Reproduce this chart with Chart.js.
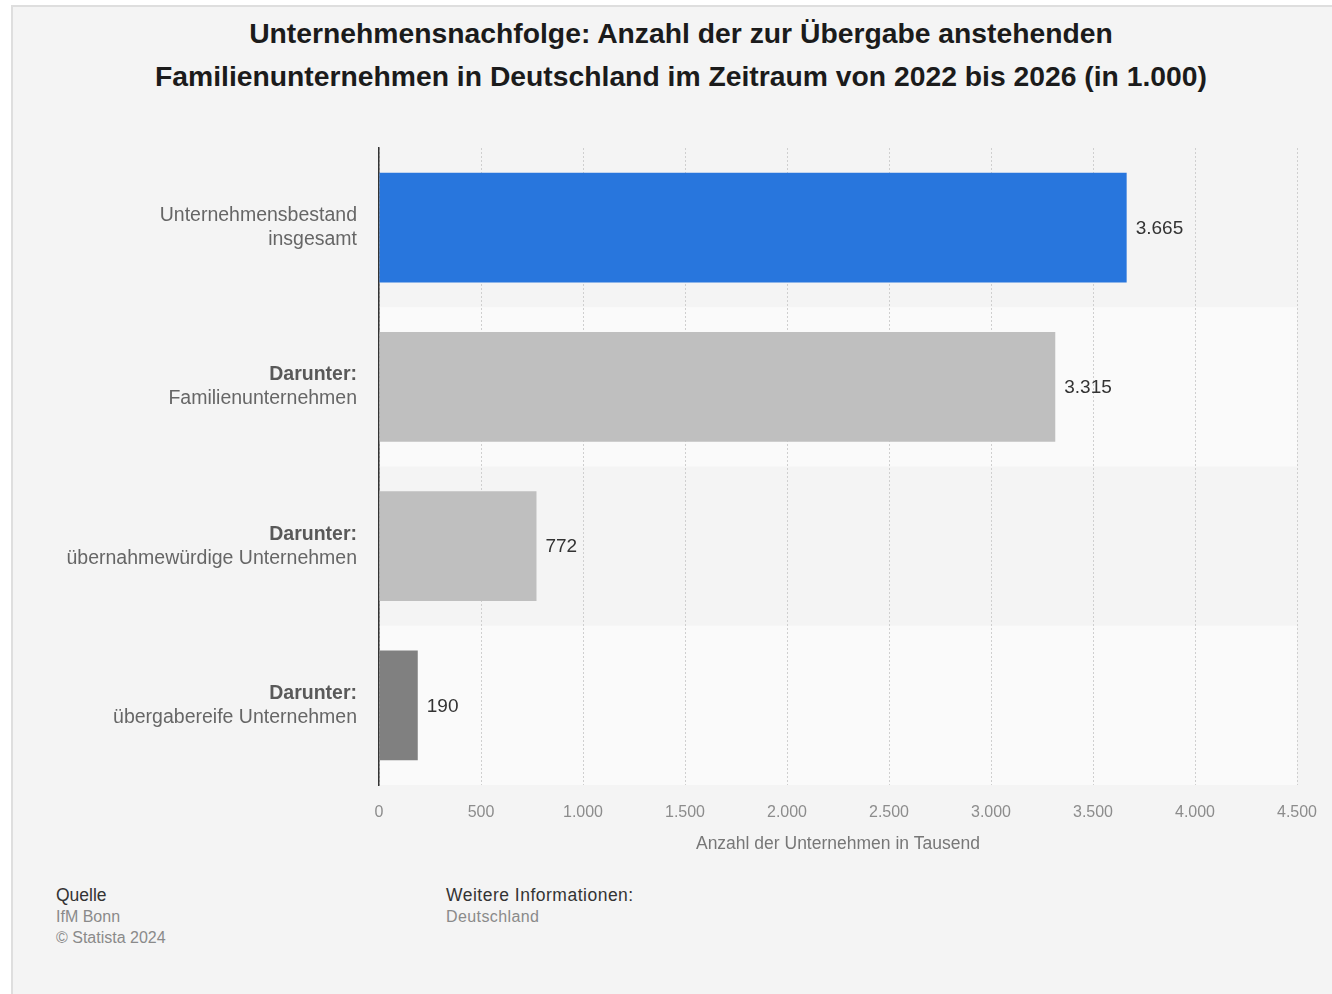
<!DOCTYPE html>
<html lang="de">
<head>
    <meta charset="UTF-8">
    <title>Unternehmensnachfolge</title>
    <script src="https://cdn.jsdelivr.net/npm/chart.js"></script>
    <style>
        body { margin: 0; background: #fff; font-family: "Liberation Sans", Arial, Helvetica, sans-serif; width: 1332px; height: 994px; overflow: hidden; position: relative; }
        #card { position: absolute; left: 11px; top: 5px; right: 0; bottom: 0; background: #f4f4f4; border-left: 2px solid #dedede; border-top: 2px solid #dedede; }
        h1 { position: absolute; left: 30px; width: 1302px; top: 12px; margin: 0; text-align: center; font-size: 28.3px; line-height: 43px; font-weight: bold; color: #1b1b1b; }
        #wrap { position: absolute; left: 0; top: 130px; width: 1332px; height: 740px; }
        .foot { position: absolute; top: 885px; font-size: 16px; line-height: 21px; color: #8a8a8a; }
        .foot b { font-weight: normal; color: #333; font-size: 17.5px; }
    </style>
</head>
<body>
    <div id="card"></div>
    <h1>Unternehmensnachfolge: Anzahl der zur Übergabe anstehenden<br>Familienunternehmen in Deutschland im Zeitraum von 2022 bis 2026 (in 1.000)</h1>
    <div id="wrap"><canvas id="chart"></canvas></div>
    <div class="foot" style="left:56px"><b>Quelle</b><br>IfM Bonn<br>© Statista 2024</div>
    <div class="foot" style="left:446px"><b style="letter-spacing:0.5px">Weitere Informationen:</b><br><span style="letter-spacing:0.4px">Deutschland</span></div>

    <script>
        // data
        const categories = ['Unternehmensbestand insgesamt', 'Darunter: Familienunternehmen', 'Darunter: übernahmewürdige Unternehmen', 'Darunter: übergabereife Unternehmen'];
        const labelTop = ['Unternehmensbestand', 'Darunter:', 'Darunter:', 'Darunter:'];
        const labelBottom = ['insgesamt', 'Familienunternehmen', 'übernahmewürdige Unternehmen', 'übergabereife Unternehmen'];
        const labelTopBold = [false, true, true, true];
        const values = [3665, 3315, 772, 190];
        const barColors = ['#2876dd', '#bfbfbf', '#bfbfbf', '#808080'];
        const xMax = 4500;
        const xStep = 500;
        const xTitle = 'Anzahl der Unternehmen in Tausend';

        const fontFamily = '"Liberation Sans", Arial, Helvetica, sans-serif';

        function fmt(n) {
            return String(n).replace(/\B(?=(\d{3})+(?!\d))/g, '.');
        }

        // lighter background on every second row
        const rowBands = {
            id: 'rowBands',
            beforeDraw(chart) {
                const { ctx, chartArea, scales: { y } } = chart;
                const half = (y.getPixelForValue(1) - y.getPixelForValue(0)) / 2;
                ctx.save();
                ctx.fillStyle = '#fafafa';
                categories.forEach((c, i) => {
                    if (i % 2 === 1) {
                        const mid = y.getPixelForValue(i);
                        ctx.fillRect(chartArea.left, mid - half, chartArea.right - chartArea.left, half * 2);
                    }
                });
                ctx.restore();
            }
        };

        // two-line category labels, first line bold for "Darunter:"
        const rowLabels = {
            id: 'rowLabels',
            afterDraw(chart) {
                const { ctx, chartArea, scales: { y } } = chart;
                const x = chartArea.left - 22;
                ctx.save();
                ctx.textAlign = 'right';
                ctx.textBaseline = 'middle';
                categories.forEach((c, i) => {
                    const mid = y.getPixelForValue(i);
                    ctx.font = (labelTopBold[i] ? 'bold ' : '') + '19.5px ' + fontFamily;
                    ctx.fillStyle = labelTopBold[i] ? '#595959' : '#666';
                    ctx.fillText(labelTop[i], x, mid - 12);
                    ctx.font = '19.5px ' + fontFamily;
                    ctx.fillStyle = '#666';
                    ctx.fillText(labelBottom[i], x, mid + 12);
                });
                ctx.restore();
            }
        };

        // value labels right of the bars
        const valueLabels = {
            id: 'valueLabels',
            afterDatasetsDraw(chart) {
                const { ctx } = chart;
                const meta = chart.getDatasetMeta(0);
                ctx.save();
                ctx.font = '19px ' + fontFamily;
                ctx.fillStyle = '#333';
                ctx.textAlign = 'left';
                ctx.textBaseline = 'middle';
                meta.data.forEach((bar, i) => {
                    ctx.fillText(fmt(values[i]), bar.x + 9, bar.y + 1);
                });
                ctx.restore();
            }
        };

        new Chart(document.getElementById('chart'), {
            type: 'bar',
            data: {
                labels: categories,
                datasets: [{
                    data: values,
                    backgroundColor: barColors,
                    borderWidth: 0,
                    barPercentage: 0.69,
                    categoryPercentage: 1
                }]
            },
            options: {
                indexAxis: 'y',
                responsive: true,
                maintainAspectRatio: false,
                animation: false,
                layout: { padding: { left: 0, right: 35, top: 18, bottom: 0 } },
                plugins: {
                    legend: { display: false },
                    tooltip: { enabled: false }
                },
                scales: {
                    x: {
                        min: 0,
                        max: xMax,
                        ticks: {
                            stepSize: xStep,
                            padding: 18,
                            color: '#8c8c8c',
                            font: { family: fontFamily, size: 16 },
                            callback: v => fmt(v)
                        },
                        grid: {
                            color: '#cfcfcf',
                            lineWidth: 1,
                            drawTicks: false
                        },
                        border: { display: false, dash: [2, 2] },
                        title: {
                            display: true,
                            text: xTitle,
                            color: '#777',
                            font: { family: fontFamily, size: 17.5 },
                            padding: { top: 0, bottom: 15 }
                        },
                        afterFit(scale) {
                            scale.height = 85;
                            scale.paddingLeft = 0;
                            scale.paddingRight = 0;
                        }
                    },
                    y: {
                        ticks: { display: false },
                        grid: { display: false },
                        border: { display: true, color: '#333', width: 1.5 },
                        afterFit(scale) { scale.width = 379; }
                    }
                }
            },
            plugins: [rowBands, rowLabels, valueLabels]
        });
    </script>
</body>
</html>
